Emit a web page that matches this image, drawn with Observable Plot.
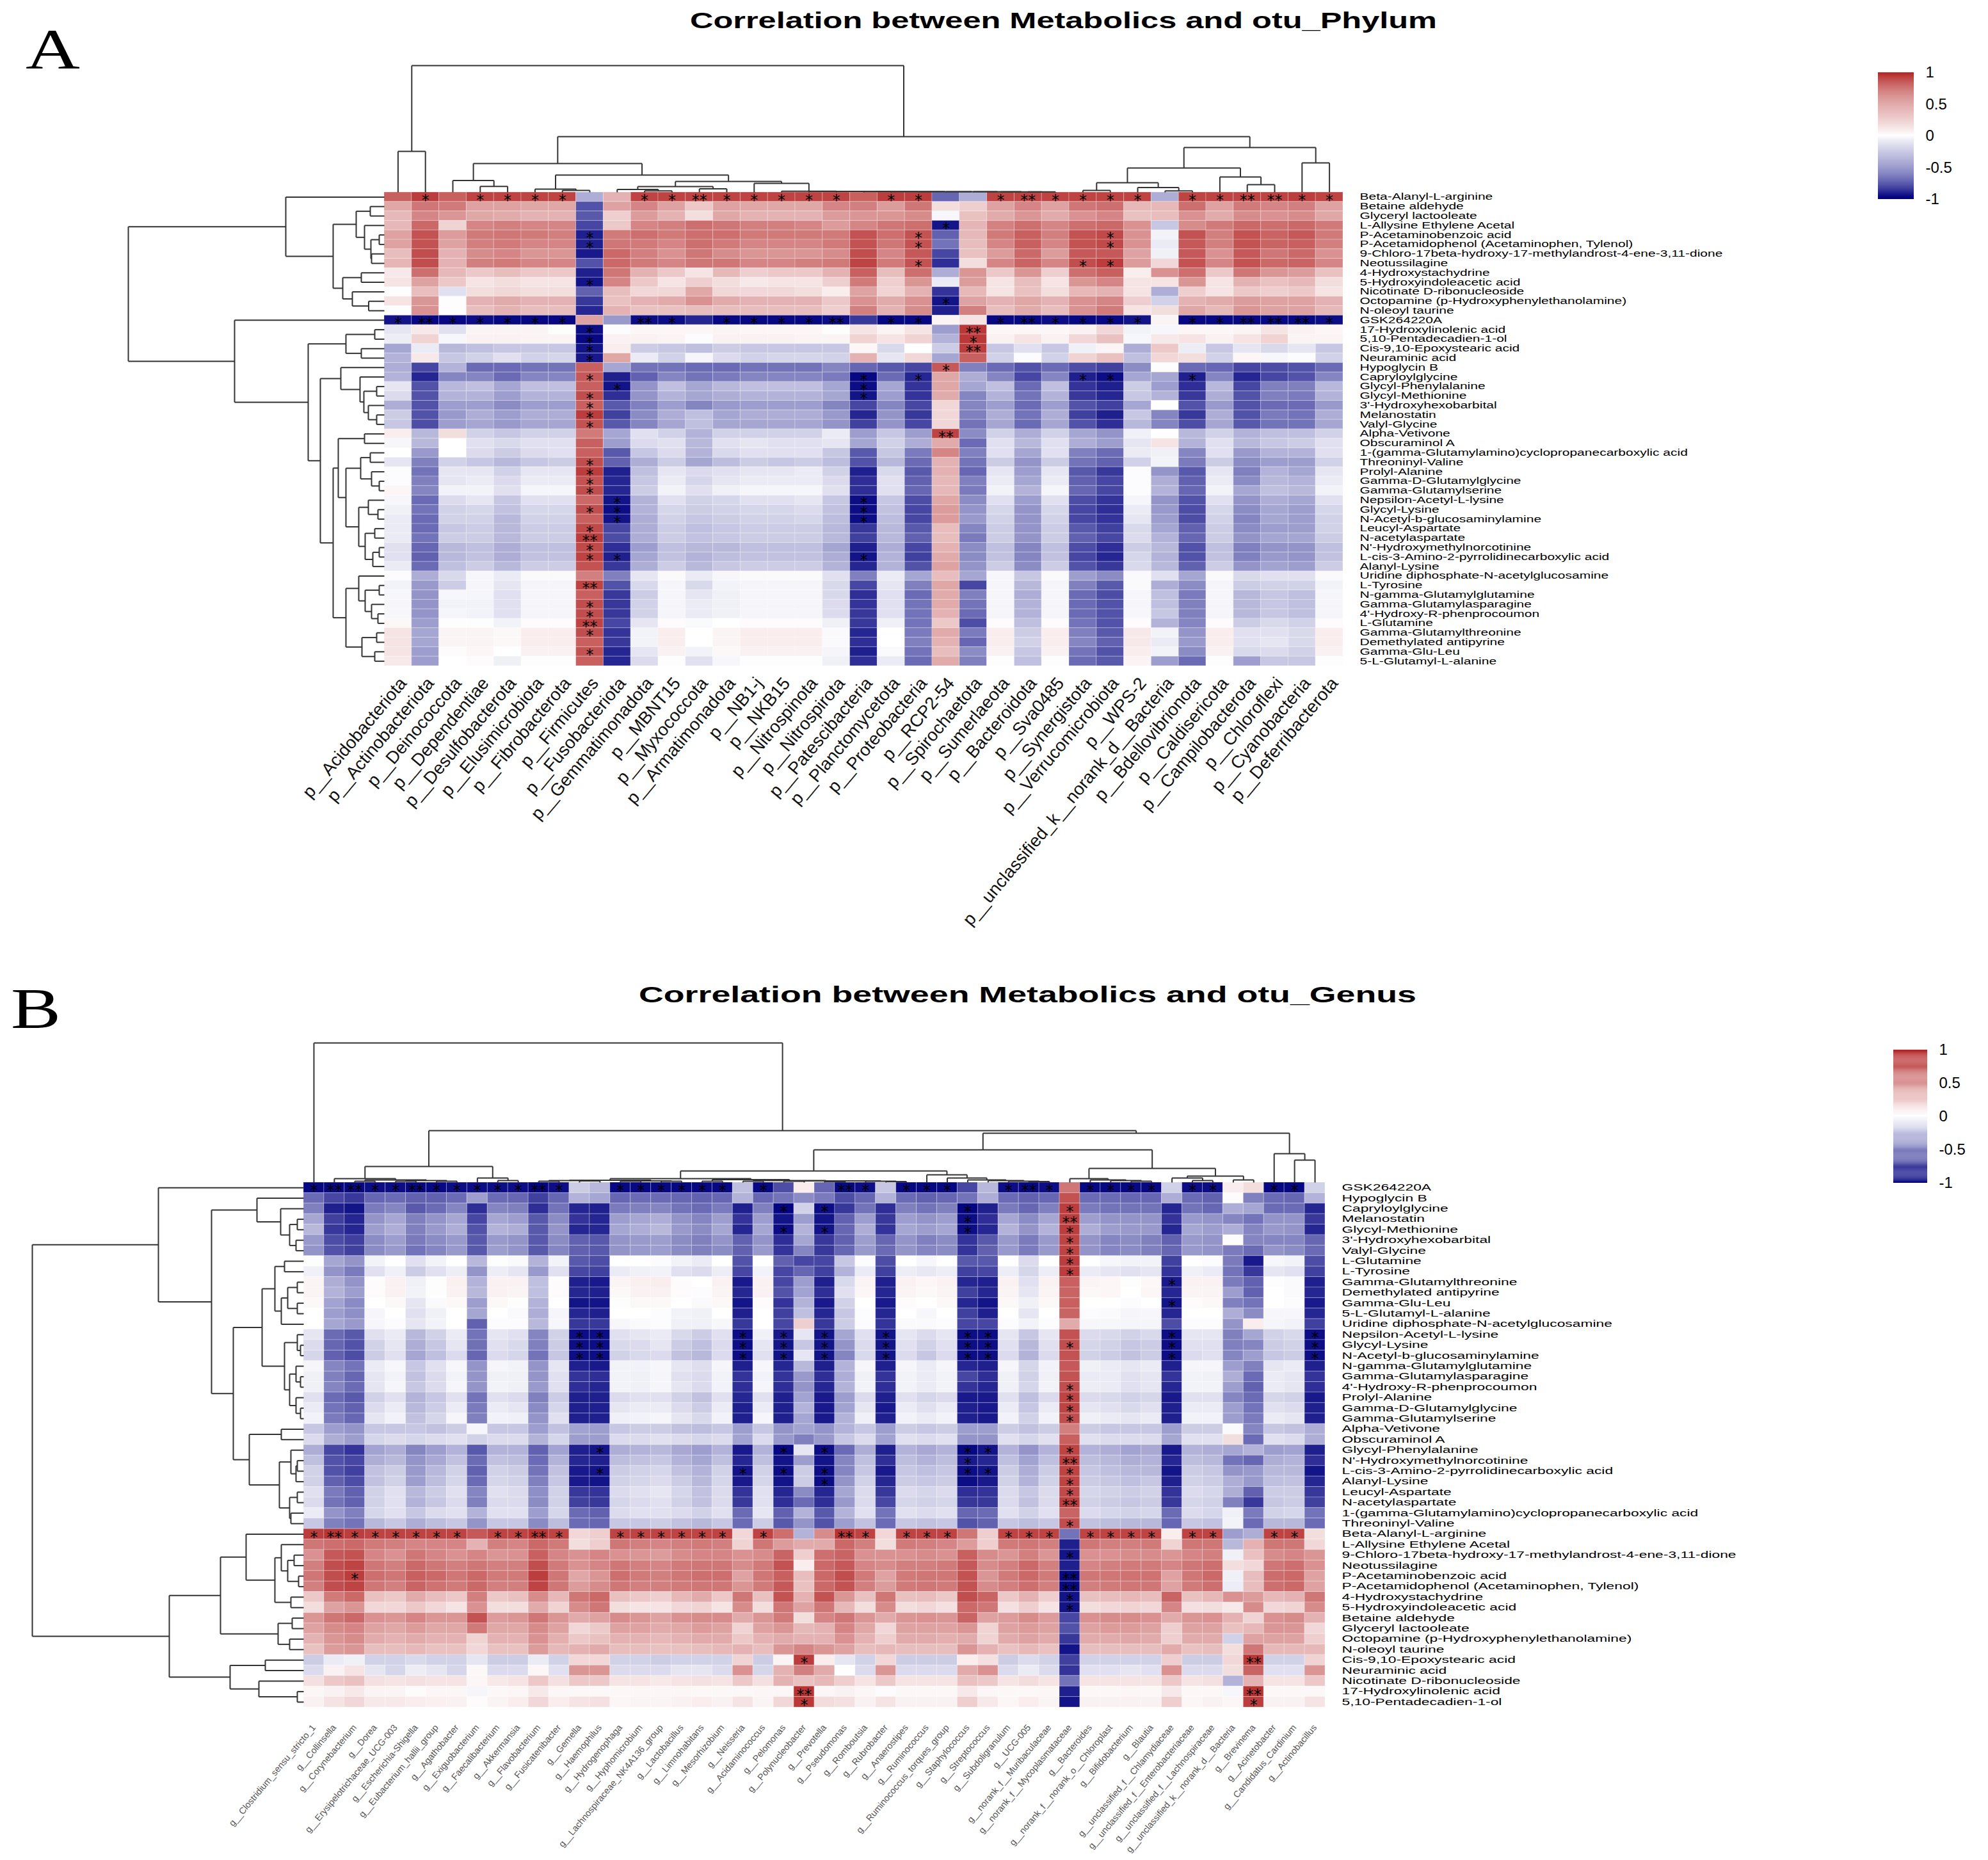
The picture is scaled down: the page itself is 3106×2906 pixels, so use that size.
<!DOCTYPE html>
<html><head><meta charset="utf-8">
<script src="https://cdn.jsdelivr.net/npm/d3@7"></script>
<script src="https://cdn.jsdelivr.net/npm/@observablehq/plot@0.6"></script>
<style>
html,body{margin:0;padding:0;background:#fff}
#page{position:relative;width:3106px;height:2906px;overflow:hidden;background:#fff}
#page>svg,#page>figure{position:absolute;margin:0}
.lab{position:absolute;white-space:nowrap;transform-origin:0 0;color:#000;line-height:1}
</style></head><body><div id="page"></div>
<script>
const phylumColumns=["p__Acidobacteriota","p__Actinobacteriota","p__Deinococcota","p__Dependentiae","p__Desulfobacterota","p__Elusimicrobiota","p__Fibrobacterota","p__Firmicutes","p__Fusobacteriota","p__Gemmatimonadota","p__MBNT15","p__Myxococcota","p__Armatimonadota","p__NB1-j","p__NKB15","p__Nitrospinota","p__Nitrospirota","p__Patescibacteria","p__Planctomycetota","p__Proteobacteria","p__RCP2-54","p__Spirochaetota","p__Sumerlaeota","p__Bacteroidota","p__Sva0485","p__Synergistota","p__Verrucomicrobiota","p__WPS-2","p__unclassified_k__norank_d__Bacteria","p__Bdellovibrionota","p__Caldisericota","p__Campilobacterota","p__Chloroflexi","p__Cyanobacteria","p__Deferribacterota"];
const phylumRows=["Beta-Alanyl-L-arginine","Betaine aldehyde","Glyceryl lactooleate","L-Allysine Ethylene Acetal","P-Acetaminobenzoic acid","P-Acetamidophenol (Acetaminophen, Tylenol)","9-Chloro-17beta-hydroxy-17-methylandrost-4-ene-3,11-dione","Neotussilagine","4-Hydroxystachydrine","5-Hydroxyindoleacetic acid","Nicotinate D-ribonucleoside","Octopamine (p-Hydroxyphenylethanolamine)","N-oleoyl taurine","GSK264220A","17-Hydroxylinolenic acid","5,10-Pentadecadien-1-ol","Cis-9,10-Epoxystearic acid","Neuraminic acid","Hypoglycin B","Capryloylglycine","Glycyl-Phenylalanine","Glycyl-Methionine","3'-Hydroxyhexobarbital","Melanostatin","Valyl-Glycine","Alpha-Vetivone","Obscuraminol A","1-(gamma-Glutamylamino)cyclopropanecarboxylic acid","Threoninyl-Valine","Prolyl-Alanine","Gamma-D-Glutamylglycine","Gamma-Glutamylserine","Nepsilon-Acetyl-L-lysine","Glycyl-Lysine","N-Acetyl-b-glucosaminylamine","Leucyl-Aspartate","N-acetylaspartate","N'-Hydroxymethylnorcotinine","L-cis-3-Amino-2-pyrrolidinecarboxylic acid","Alanyl-Lysine","Uridine diphosphate-N-acetylglucosamine","L-Tyrosine","N-gamma-Glutamylglutamine","Gamma-Glutamylasparagine","4'-Hydroxy-R-phenprocoumon","L-Glutamine","Gamma-Glutamylthreonine","Demethylated antipyrine","Gamma-Glu-Leu","5-L-Glutamyl-L-alanine"];
// correlation x 100, one list per metabolite
const phylumValues=[
[72,88,72,85,85,85,85,-32,35,85,85,85,85,85,85,85,85,72,88,88,-60,-32,85,85,85,85,85,85,-32,85,85,85,85,88,85],
[40,62,60,42,42,40,40,-68,42,55,42,25,42,40,40,40,55,58,45,62,15,22,42,55,42,62,65,32,32,65,42,60,55,58,42],
[32,55,48,40,38,35,35,-65,22,45,35,15,40,35,35,35,45,48,48,52,-3,28,38,48,38,50,55,28,30,50,38,52,50,52,40],
[32,68,20,55,58,55,55,-72,25,55,58,65,62,58,58,55,45,55,62,65,-92,33,57,65,55,65,68,50,-22,52,60,68,65,68,60],
[42,78,45,60,62,60,58,-88,60,65,60,65,65,60,60,60,60,78,65,78,-62,32,60,72,58,78,82,50,-5,78,58,78,70,75,60],
[42,78,42,58,60,55,55,-88,62,60,55,65,60,55,55,55,60,78,62,78,-55,30,55,72,55,78,82,50,-8,75,58,78,70,72,58],
[30,80,35,52,55,48,48,-90,68,58,50,62,52,48,48,48,52,80,55,75,-72,28,45,68,45,75,75,42,-6,75,50,75,62,68,50],
[33,80,35,58,60,55,55,-68,68,60,55,62,62,55,55,58,60,85,60,78,-82,15,55,70,55,80,88,45,18,78,55,78,68,70,55],
[10,65,32,25,30,25,25,-88,62,35,25,12,32,22,25,25,35,72,30,65,-32,48,25,48,22,65,72,8,50,65,25,62,48,45,28],
[12,42,25,12,15,12,12,-92,55,25,12,22,15,10,12,12,22,60,22,48,-8,45,12,30,12,48,55,12,12,48,12,35,28,32,15],
[1,30,-12,15,18,15,15,-62,30,18,18,40,18,18,18,15,8,42,20,35,-80,32,12,28,15,32,35,12,-32,22,12,25,22,25,12],
[12,48,1,35,38,35,35,-78,28,35,38,50,38,35,35,35,25,50,38,50,-92,42,35,40,35,50,55,22,-18,35,38,45,42,42,35],
[1,50,1,30,35,30,30,-85,35,28,28,30,30,30,30,30,22,58,35,52,-88,58,30,38,30,50,60,12,15,40,32,48,42,42,32],
[-92,-97,-97,-95,-97,-97,-97,42,-40,-95,-95,-85,-97,-97,-97,-97,-95,-78,-97,-97,5,12,-97,-97,-95,-97,-97,-92,5,-97,-97,-97,-97,-97,-95],
[-10,10,-12,5,5,5,1,-95,-1,4,4,4,5,4,4,4,1,12,5,12,-38,90,4,4,4,6,18,-5,-3,4,4,5,12,6,4],
[-7,20,-3,6,6,5,5,-97,6,6,5,-1,6,6,6,5,5,20,12,20,-30,90,6,12,6,18,28,-3,10,12,6,12,20,5,5],
[-35,-8,-28,-25,-22,-22,-22,-92,8,-20,-22,-25,-20,-22,-22,-22,-22,4,-15,0,-20,88,-22,-12,-22,-6,5,-32,25,-7,-22,-10,-15,-10,-22],
[-30,10,-22,-18,-12,-18,-16,-90,40,-8,-18,-4,-14,-18,-16,-16,-18,35,-10,18,-35,72,-18,-1,-18,20,28,-25,18,15,-18,4,-3,-1,-18],
[-32,-72,-30,-58,-58,-55,-55,72,-35,-55,-55,-58,-58,-55,-55,-55,-48,-60,-65,-72,75,-50,-58,-68,-58,-70,-75,-45,1,-58,-60,-72,-70,-68,-58],
[-30,-85,-48,-48,-58,-48,-48,75,-88,-62,-48,-55,-52,-48,-48,-48,-52,-97,-58,-85,40,-32,-48,-72,-48,-88,-95,-35,-35,-88,-48,-85,-72,-68,-48],
[-10,-68,-28,-25,-35,-25,-25,72,-92,-42,-25,-35,-28,-25,-25,-25,-35,-95,-35,-80,40,-35,-25,-58,-25,-80,-88,-20,-38,-82,-28,-72,-50,-50,-28],
[-14,-68,-30,-30,-38,-30,-30,80,-82,-42,-30,-35,-32,-30,-30,-30,-35,-92,-38,-80,38,-48,-30,-55,-30,-78,-85,-22,-30,-78,-32,-68,-50,-52,-30],
[-32,-68,-38,-38,-45,-38,-38,72,-65,-50,-38,-48,-40,-38,-38,-38,-48,-72,-48,-72,18,-48,-38,-58,-38,-68,-75,-35,0,-68,-40,-68,-58,-58,-40],
[-20,-68,-40,-32,-38,-32,-32,88,-75,-45,-32,-25,-35,-32,-32,-32,-40,-85,-42,-78,18,-50,-32,-55,-32,-75,-88,-22,-48,-78,-32,-68,-52,-55,-32],
[-22,-70,-38,-35,-40,-35,-35,78,-65,-48,-35,-25,-35,-35,-35,-35,-42,-75,-42,-72,18,-55,-35,-58,-35,-68,-82,-28,-48,-70,-35,-65,-55,-55,-35],
[8,-28,15,-18,-22,-18,-18,60,-35,-12,-18,-30,-18,-18,-18,-18,-8,-38,-22,-38,85,-45,-18,-32,-18,-35,-42,-6,0,-28,-18,-30,-25,-25,-18],
[-3,-28,0,-12,-15,-12,-12,72,-38,-14,-12,-28,-12,-10,-12,-12,-10,-35,-18,-32,38,-58,-12,-28,-12,-32,-38,-10,12,-30,-12,-28,-22,-20,-12],
[0,-40,0,-14,-20,-14,-12,72,-65,-22,-14,-30,-15,-12,-12,-12,-22,-65,-22,-52,55,-50,-12,-35,-12,-50,-58,-8,-6,-48,-12,-40,-30,-30,-12],
[-10,-50,-18,-22,-28,-22,-20,80,-62,-32,-20,-35,-26,-20,-22,-20,-26,-68,-28,-58,35,-55,-20,-42,-20,-55,-62,-18,-5,-52,-20,-45,-38,-38,-18],
[-1,-55,-10,-10,-18,-10,-10,88,-88,-25,-10,-14,-12,-10,-10,-8,-18,-88,-15,-65,35,-60,-10,-38,-10,-65,-78,-1,-42,-65,-10,-50,-30,-35,-10],
[-1,-50,-10,-8,-14,-8,-8,78,-85,-22,-8,-16,-10,-8,-8,-8,-14,-82,-12,-62,32,-50,-8,-35,-8,-62,-72,-1,-32,-62,-8,-45,-28,-30,-8],
[4,-48,-5,-5,-12,-4,-4,80,-85,-20,-5,-12,-6,-4,-4,-4,-12,-82,-12,-60,32,-52,-5,-30,-4,-60,-72,-1,-30,-60,-5,-35,-25,-28,-5],
[-3,-58,-14,-10,-22,-12,-12,68,-92,-30,-12,-18,-16,-12,-12,-10,-22,-95,-22,-70,40,-45,-12,-38,-12,-70,-80,-4,-42,-68,-12,-42,-32,-35,-12],
[-6,-55,-18,-16,-24,-16,-16,80,-95,-30,-16,-20,-18,-16,-16,-14,-24,-95,-24,-72,45,-42,-16,-42,-16,-72,-82,-8,-40,-70,-16,-45,-35,-38,-16],
[-8,-58,-18,-18,-28,-18,-18,72,-92,-32,-18,-22,-20,-18,-18,-16,-26,-95,-26,-72,45,-40,-18,-42,-18,-72,-80,-10,-38,-70,-18,-48,-35,-38,-18],
[-8,-58,-22,-20,-28,-20,-20,82,-72,-32,-20,-25,-22,-20,-20,-20,-28,-78,-28,-65,30,-48,-20,-42,-20,-65,-75,-15,-35,-62,-20,-45,-38,-38,-18],
[-8,-55,-20,-20,-28,-20,-20,88,-70,-32,-20,-24,-22,-20,-20,-20,-28,-75,-28,-62,30,-52,-20,-42,-20,-62,-72,-14,-30,-60,-20,-42,-35,-35,-20],
[-12,-60,-28,-25,-32,-25,-25,82,-82,-38,-25,-28,-28,-25,-25,-25,-35,-88,-32,-72,35,-45,-25,-48,-25,-70,-82,-20,-28,-68,-25,-50,-42,-42,-25],
[-12,-62,-28,-24,-32,-24,-24,85,-88,-35,-24,-30,-26,-24,-24,-24,-32,-92,-30,-75,38,-45,-24,-48,-24,-72,-85,-16,-30,-68,-24,-50,-40,-42,-24],
[-8,-58,-25,-20,-28,-20,-20,78,-78,-32,-20,-28,-22,-20,-20,-20,-30,-85,-30,-68,42,-42,-20,-45,-20,-68,-78,-15,-28,-62,-20,-42,-36,-38,-20],
[-1,-32,-15,-3,-8,-2,-2,58,-50,-10,-2,-8,-3,-2,-2,-2,-12,-50,-8,-35,30,-35,-3,-22,-2,-38,-45,-2,-12,-35,-2,-15,-12,-12,-2],
[-5,-40,-20,-4,-10,-4,-4,85,-68,-15,-4,-15,-5,-4,-4,-4,-15,-72,-10,-50,40,-72,-4,-28,-4,-50,-65,-2,-32,-45,-4,-20,-18,-18,-5],
[-3,-42,-3,-4,-12,-4,-4,72,-78,-20,-4,-10,-6,-4,-4,-4,-15,-82,-12,-58,38,-50,-4,-32,-4,-58,-70,-3,-25,-52,-4,-28,-22,-25,-4],
[-3,-42,-5,-5,-12,-4,-4,80,-78,-18,-4,-8,-6,-4,-4,-4,-14,-80,-12,-55,38,-55,-4,-30,-4,-58,-68,-3,-25,-50,-4,-28,-22,-25,-4],
[-3,-42,-4,-5,-12,-4,-4,80,-78,-18,-4,-8,-6,-4,-4,-4,-14,-78,-12,-55,35,-58,-4,-30,-4,-58,-68,-3,-22,-50,-4,-28,-22,-25,-4],
[3,-38,1,1,-5,2,2,85,-72,-10,2,-2,0,2,2,2,-6,-78,-6,-55,25,-70,2,-25,2,-55,-68,2,-30,-48,2,-20,-15,-18,2],
[12,-35,5,5,3,8,8,80,-80,-5,8,0,5,8,8,8,-2,-85,0,-52,38,-52,8,-20,8,-50,-65,10,-5,-42,8,-12,-12,-15,8],
[12,-35,5,5,3,8,8,72,-78,-5,8,0,5,8,8,8,-2,-82,0,-50,35,-60,8,-18,8,-48,-62,10,-8,-40,8,-12,-10,-15,8],
[12,-38,2,4,0,6,6,78,-85,-10,6,-5,3,6,6,6,-4,-88,-2,-55,30,-45,6,-22,6,-55,-68,8,-5,-45,6,-15,-14,-18,6],
[10,-38,0,2,-6,1,1,72,-85,-14,1,-12,-3,1,1,1,-6,-82,-8,-58,38,-50,1,-25,1,-58,-65,5,-38,-58,1,-38,-22,-22,1]
];
// [row, columns with *, columns with **]
const phylumStars=[
[0,[1,3,4,5,6,9,10,12,13,14,15,16,18,19,22,24,25,26,27,29,30,33,34],[11,23,31,32]],
[3,[20],[]],[4,[7,19,26],[]],[5,[7,19,26],[]],[7,[19,25,26],[]],[9,[7],[]],[11,[20],[]],
[13,[0,2,3,4,5,6,10,12,13,14,15,18,19,22,24,25,26,27,29,30,34],[1,9,16,23,31,32,33]],
[14,[7],[21]],[15,[7,21],[]],[16,[7],[21]],[17,[7],[]],[18,[20],[]],[19,[7,17,19,25,26,29],[]],
[20,[8,17],[]],[21,[7,17],[]],[22,[7],[]],[23,[7],[]],[24,[7],[]],[25,[],[20]],
[28,[7],[]],[29,[7],[]],[30,[7],[]],[31,[7],[]],[32,[8,17],[]],[33,[7,8,17],[]],[34,[8,17],[]],
[35,[7],[]],[36,[],[7]],[37,[7],[]],[38,[7,8,17],[]],[41,[],[7]],[43,[7],[]],[44,[7],[]],[45,[],[7]],[46,[7],[]],[48,[7],[]]
];
// dendrograms: [distance, left, right]; a number is a leaf index
const phylumColumnTree=[198,[64,0,1],[87,[45,[18.4,2,[9.3,3,4]],[27,[5,5,[3,6,7]],[17,[9,[4.5,8,[2.2,9,10]],[5.5,11,12]],[14,13,[1.8,14,[1.6,15,[1.4,16,[1.3,17,[1.2,18,[1.1,19,[1,20,[0.9,21,[0.8,22,[0.7,23,24]]]]]]]]]]]]]],[70,[38,[15,[3,25,26],[7.4,27,[2.2,28,29]]],[24,30,[12,31,32]]],[46,33,34]]]];
const phylumRowTree=[400,[154,0,[80,[44,[22,1,2],[31,3,[21,[8,4,5],[20,6,7]]]],[65,[36,8,9],[50,10,[24.5,11,12]]]]],[234,13,[119,[60,[15,14,15],[36,16,17]],[100,[68,18,[38,19,[32,[12,20,21],[25,22,[12,23,24]]]]],[80,[72,[31,25,26],[60,[37,[22,27,28],[20,29,[8,30,31]]],[40,[25,32,[10,33,34]],[30,[15,35,36],[18,[8,37,38],39]]]]],[60,[40,40,[30,[8,41,42],[20,43,[10,44,45]]]],[35,[12,46,47],[15,48,49]]]]]]]];

const genusColumns=["g__Clostridium_sensu_stricto_1","g__Collinsella","g__Corynebacterium","g__Dorea","g__Erysipelotrichaceae_UCG-003","g__Escherichia-Shigella","g__Eubacterium_hallii_group","g__Agathobacter","g__Exiguobacterium","g__Faecalibacterium","g__Akkermansia","g__Flavobacterium","g__Fusicatenibacter","g__Gemella","g__Haemophilus","g__Hydrogenophaga","g__Hyphomicrobium","g__Lachnospiraceae_NK4A136_group","g__Lactobacillus","g__Limnohabitans","g__Mesorhizobium","g__Neisseria","g__Acidaminococcus","g__Pelomonas","g__Polynucleobacter","g__Prevotella","g__Pseudomonas","g__Romboutsia","g__Rubrobacter","g__Anaerostipes","g__Ruminococcus","g__Ruminococcus_torques_group","g__Staphylococcus","g__Streptococcus","g__Subdoligranulum","g__UCG-005","g__norank_f__Muribaculaceae","g__norank_f__Mycoplasmataceae","g__Bacteroides","g__norank_f__norank_o__Chloroplast","g__Bifidobacterium","g__Blautia","g__unclassified_f__Chlamydiaceae","g__unclassified_f__Enterobacteriaceae","g__unclassified_f__Lachnospiraceae","g__unclassified_k__norank_d__Bacteria","g__Brevinema","g__Acinetobacter","g__Candidatus_Cardinium","g__Actinobacillus"];
const genusRows=["GSK264220A","Hypoglycin B","Capryloylglycine","Melanostatin","Glycyl-Methionine","3'-Hydroxyhexobarbital","Valyl-Glycine","L-Glutamine","L-Tyrosine","Gamma-Glutamylthreonine","Demethylated antipyrine","Gamma-Glu-Leu","5-L-Glutamyl-L-alanine","Uridine diphosphate-N-acetylglucosamine","Nepsilon-Acetyl-L-lysine","Glycyl-Lysine","N-Acetyl-b-glucosaminylamine","N-gamma-Glutamylglutamine","Gamma-Glutamylasparagine","4'-Hydroxy-R-phenprocoumon","Prolyl-Alanine","Gamma-D-Glutamylglycine","Gamma-Glutamylserine","Alpha-Vetivone","Obscuraminol A","Glycyl-Phenylalanine","N'-Hydroxymethylnorcotinine","L-cis-3-Amino-2-pyrrolidinecarboxylic acid","Alanyl-Lysine","Leucyl-Aspartate","N-acetylaspartate","1-(gamma-Glutamylamino)cyclopropanecarboxylic acid","Threoninyl-Valine","Beta-Alanyl-L-arginine","L-Allysine Ethylene Acetal","9-Chloro-17beta-hydroxy-17-methylandrost-4-ene-3,11-dione","Neotussilagine","P-Acetaminobenzoic acid","P-Acetamidophenol (Acetaminophen, Tylenol)","4-Hydroxystachydrine","5-Hydroxyindoleacetic acid","Betaine aldehyde","Glyceryl lactooleate","Octopamine (p-Hydroxyphenylethanolamine)","N-oleoyl taurine","Cis-9,10-Epoxystearic acid","Neuraminic acid","Nicotinate D-ribonucleoside","17-Hydroxylinolenic acid","5,10-Pentadecadien-1-ol"];
const genusValues=[
[-97,-97,-97,-95,-95,-97,-97,-95,-95,-95,-95,-98,-95,-20,-28,-97,-97,-97,-97,-97,-97,-25,-97,-70,8,-60,-97,-95,-22,-97,-97,-97,-72,-28,-95,-97,-95,62,-97,-97,-97,-97,-18,-95,-95,8,15,-97,-97,-18],
[-58,-72,-78,-60,-58,-62,-62,-58,-38,-58,-60,-75,-60,-30,-35,-60,-58,-58,-60,-62,-60,-30,-60,-55,-45,-52,-70,-60,-30,-58,-62,-60,-55,-32,-58,-62,-60,78,-58,-58,-60,-60,-32,-58,-62,2,-50,-58,-60,-30],
[-50,-88,-92,-52,-48,-65,-58,-48,-82,-48,-50,-82,-55,-85,-88,-52,-50,-48,-55,-58,-52,-88,-50,-98,-18,-95,-78,-55,-82,-50,-55,-50,-98,-88,-52,-60,-50,88,-52,-55,-55,-55,-85,-55,-60,-32,-35,-58,-58,-85],
[-35,-75,-85,-42,-35,-50,-42,-35,-72,-35,-38,-65,-45,-80,-85,-38,-35,-32,-42,-48,-38,-80,-38,-92,-38,-92,-62,-38,-78,-38,-42,-38,-95,-82,-35,-45,-35,88,-38,-42,-42,-42,-80,-40,-42,-48,-55,-42,-42,-78],
[-28,-78,-85,-38,-32,-50,-40,-32,-68,-30,-32,-65,-42,-85,-85,-35,-32,-28,-40,-45,-35,-85,-35,-95,-30,-92,-60,-32,-80,-35,-38,-35,-95,-85,-30,-42,-30,88,-32,-38,-40,-40,-85,-35,-38,-32,-48,-40,-42,-85],
[-40,-70,-75,-45,-38,-52,-45,-40,-65,-40,-42,-65,-45,-62,-65,-42,-40,-38,-45,-50,-42,-62,-42,-82,-35,-78,-62,-38,-60,-42,-50,-45,-80,-65,-40,-52,-40,85,-42,-48,-45,-50,-62,-40,-42,2,-48,-48,-48,-60],
[-42,-68,-75,-45,-40,-55,-48,-40,-65,-38,-42,-65,-48,-62,-65,-42,-40,-38,-45,-50,-45,-62,-40,-80,-48,-78,-60,-40,-58,-42,-48,-45,-80,-62,-40,-52,-40,85,-42,-48,-45,-50,-60,-40,-42,-52,-58,-42,-45,-58],
[1,-35,-42,-5,0,-12,-5,0,-28,1,-2,-30,-5,-65,-70,0,0,-1,-5,-8,0,-68,0,-62,-72,-72,-22,-1,-70,0,-3,0,-65,-65,0,-14,0,88,0,-3,-5,-5,-75,0,-1,-52,-90,-3,-5,-70],
[-6,-42,-52,-12,-6,-20,-12,-7,-42,-7,-10,-40,-12,-72,-75,-8,-6,-5,-12,-14,-7,-72,-5,-72,-60,-75,-30,-8,-75,-7,-9,-7,-75,-72,-7,-16,-7,88,-8,-10,-12,-10,-80,-6,-8,-55,-78,-10,-12,-75],
[5,-32,-42,2,6,-6,1,7,-30,6,6,-25,2,-88,-90,5,7,8,2,0,6,-90,6,-72,-38,-88,-15,5,-88,6,4,6,-85,-88,6,-12,6,72,5,4,1,3,-90,6,6,-52,-62,1,-2,-88],
[5,-30,-38,2,6,-5,1,6,-28,6,5,-25,2,-85,-88,3,6,6,2,-1,5,-85,6,-68,-36,-82,-12,4,-85,5,3,5,-75,-85,5,-10,5,70,3,4,0,4,-85,5,5,-38,-62,0,-2,-85],
[3,-36,-46,0,3,-10,-2,3,-38,3,1,-30,0,-92,-92,1,3,3,0,-2,3,-92,2,-80,-30,-90,-18,0,-90,2,0,3,-85,-92,3,-6,3,72,0,0,-1,0,-92,2,3,-50,-55,0,-1,-90],
[0,-38,-44,-4,0,-12,-6,0,-35,0,-2,-32,-4,-85,-88,0,0,-1,-5,-6,0,-88,0,-75,-25,-85,-22,-1,-85,0,-3,0,-75,-88,0,-10,0,70,-1,-2,-4,-3,-85,0,0,-32,-45,-3,-3,-85],
[0,-35,-40,-3,-1,-10,-5,0,-62,-1,-1,-28,-3,-78,-78,-3,-2,-1,-6,-6,-3,-78,0,-72,22,-78,-20,-1,-80,-2,-2,-1,-72,-72,-1,-5,-1,38,-3,-3,-4,-4,-70,-1,-1,-42,8,-4,-5,-75],
[-10,-58,-65,-12,-8,-28,-18,-8,-55,-10,-12,-48,-18,-95,-95,-12,-10,-8,-15,-20,-12,-95,-6,-90,-10,-92,-35,-12,-92,-10,-14,-10,-95,-95,-10,-22,-10,78,-14,-15,-18,-15,-95,-10,-10,-50,-35,-18,-15,-95],
[-14,-60,-68,-18,-10,-32,-22,-10,-56,-12,-15,-50,-20,-95,-95,-15,-14,-10,-20,-25,-14,-95,-10,-92,-22,-92,-42,-14,-92,-12,-18,-12,-95,-95,-12,-28,-12,80,-16,-18,-22,-20,-95,-12,-12,-50,-48,-20,-18,-95],
[-16,-62,-70,-20,-12,-35,-25,-14,-60,-14,-16,-55,-22,-95,-95,-18,-15,-14,-24,-28,-14,-95,-12,-92,-10,-92,-48,-15,-92,-14,-22,-14,-95,-95,-14,-30,-14,78,-18,-20,-24,-20,-95,-14,-12,-48,-38,-22,-20,-95],
[-4,-48,-55,-8,-3,-22,-12,-3,-42,-4,-5,-42,-10,-88,-90,-5,-5,-3,-10,-13,-4,-88,-3,-85,-28,-88,-30,-4,-88,-4,-8,-4,-85,-88,-4,-16,-5,75,-6,-8,-10,-8,-88,-4,-4,-38,-50,-10,-8,-88],
[-6,-50,-60,-10,-5,-24,-14,-5,-42,-6,-6,-42,-12,-80,-82,-5,-6,-4,-12,-14,-5,-80,-5,-80,-40,-82,-32,-6,-80,-5,-8,-5,-72,-82,-6,-18,-6,78,-8,-8,-12,-10,-80,-5,-6,-32,-58,-8,-10,-80],
[-6,-48,-58,-10,-4,-22,-14,-4,-42,-5,-6,-40,-12,-82,-85,-5,-6,-4,-10,-14,-5,-82,-4,-82,-42,-85,-30,-5,-82,-5,-8,-5,-80,-85,-6,-16,-5,80,-7,-8,-12,-10,-85,-5,-5,-38,-62,-8,-10,-82],
[-12,-58,-65,-18,-12,-30,-22,-12,-55,-12,-14,-50,-20,-88,-88,-14,-12,-12,-18,-24,-12,-85,-12,-88,-36,-90,-38,-14,-88,-12,-16,-14,-90,-90,-12,-25,-14,85,-14,-15,-18,-16,-90,-12,-12,-48,-58,-16,-18,-90],
[-8,-55,-62,-14,-8,-28,-20,-8,-52,-8,-10,-46,-16,-88,-88,-10,-8,-8,-14,-20,-8,-88,-8,-88,-30,-90,-36,-10,-90,-8,-12,-8,-88,-90,-8,-22,-8,85,-10,-12,-15,-12,-88,-8,-8,-38,-55,-12,-14,-88],
[-5,-52,-60,-10,-5,-24,-16,-4,-50,-5,-6,-42,-12,-88,-88,-6,-5,-4,-10,-15,-5,-88,-4,-88,-35,-90,-30,-6,-88,-5,-8,-5,-88,-90,-5,-18,-5,80,-6,-8,-10,-8,-88,-5,-5,-38,-52,-8,-10,-88],
[-22,-38,-42,-22,-22,-22,-24,-20,-4,-22,-22,-38,-24,-36,-38,-22,-20,-20,-24,-26,-22,-38,-22,-42,-36,-42,-30,-22,-38,-20,-22,-20,-38,-38,-20,-24,-20,58,-20,-22,-22,-22,-38,-20,-20,-2,-48,-22,-24,-32],
[-14,-32,-38,-16,-14,-16,-14,-12,-18,-14,-14,-30,-16,-38,-38,-14,-14,-12,-14,-16,-14,-36,-14,-40,-50,-40,-22,-14,-36,-12,-14,-12,-42,-42,-12,-16,-12,72,-12,-14,-14,-14,-35,-12,-12,15,-58,-12,-14,-32],
[-32,-72,-80,-36,-32,-48,-38,-30,-65,-30,-30,-62,-36,-88,-92,-32,-30,-28,-34,-38,-30,-90,-30,-97,-10,-95,-58,-32,-88,-30,-34,-30,-97,-92,-30,-42,-30,85,-30,-32,-36,-34,-90,-30,-32,-35,-30,-38,-36,-88],
[-25,-68,-72,-32,-28,-42,-34,-24,-58,-24,-26,-58,-30,-85,-88,-26,-24,-22,-30,-35,-25,-85,-25,-92,-38,-92,-48,-25,-82,-26,-30,-26,-90,-85,-25,-36,-25,88,-26,-28,-32,-30,-85,-26,-28,-55,-60,-32,-30,-82],
[-18,-68,-75,-24,-20,-40,-28,-18,-62,-18,-20,-55,-24,-90,-92,-20,-18,-16,-24,-30,-18,-92,-18,-95,-20,-95,-48,-22,-90,-22,-25,-22,-95,-92,-20,-32,-20,85,-22,-25,-28,-28,-92,-20,-22,-42,-40,-28,-28,-92],
[-18,-62,-70,-24,-18,-38,-26,-16,-58,-16,-18,-50,-22,-90,-92,-18,-16,-14,-20,-28,-16,-90,-16,-92,-20,-95,-42,-18,-85,-20,-22,-20,-95,-90,-18,-30,-18,85,-20,-22,-25,-22,-88,-18,-20,-32,-40,-25,-24,-85],
[-12,-52,-62,-18,-12,-28,-20,-12,-48,-12,-14,-44,-18,-78,-80,-14,-12,-10,-16,-24,-14,-80,-12,-85,-45,-85,-35,-14,-78,-14,-16,-14,-82,-80,-14,-22,-14,82,-16,-18,-20,-18,-80,-14,-16,-32,-62,-20,-20,-78],
[-14,-55,-62,-18,-12,-30,-22,-14,-50,-14,-14,-45,-18,-75,-78,-16,-14,-12,-18,-24,-14,-78,-12,-82,-58,-82,-40,-14,-72,-16,-18,-16,-78,-78,-14,-24,-14,88,-18,-20,-22,-20,-78,-16,-18,-50,-78,-22,-20,-75],
[-8,-42,-50,-16,-12,-22,-14,-12,-30,-12,-12,-38,-16,-58,-62,-14,-12,-12,-14,-18,-12,-58,-10,-62,-30,-65,-30,-12,-55,-12,-14,-12,-60,-58,-12,-18,-12,70,-14,-16,-18,-16,-58,-14,-16,-6,-52,-18,-16,-55],
[-22,-50,-55,-28,-22,-32,-26,-22,-42,-22,-22,-46,-26,-58,-60,-22,-22,-20,-24,-28,-22,-58,-20,-65,-42,-68,-38,-24,-58,-22,-24,-22,-68,-62,-22,-26,-22,80,-24,-26,-28,-28,-60,-22,-24,-5,-58,-28,-28,-58],
[88,92,88,85,85,85,85,85,75,85,85,92,85,18,22,85,85,85,85,85,85,18,85,65,-30,52,92,85,18,85,85,85,62,22,85,85,85,-55,85,85,85,85,8,85,85,-38,-32,85,85,15],
[62,65,68,60,58,55,55,55,35,58,55,68,60,15,22,62,58,55,58,60,58,20,62,45,38,38,68,58,15,60,58,55,45,22,60,62,58,-88,62,58,58,60,20,62,62,-28,35,62,62,18],
[50,75,78,55,50,62,55,50,55,48,50,72,55,50,55,50,48,45,52,55,55,50,52,70,22,65,70,50,50,50,52,50,72,52,48,58,48,-92,50,50,52,52,48,55,58,-6,28,52,55,48],
[58,80,85,62,58,68,62,58,62,58,58,80,60,50,55,62,58,55,60,62,62,52,60,78,8,68,75,55,52,58,58,60,75,52,58,68,58,-88,55,58,60,60,55,62,65,15,18,62,65,50],
[62,80,88,65,62,72,68,62,68,60,60,88,62,40,48,65,60,58,62,65,65,42,62,72,30,68,80,60,42,60,62,62,78,48,60,68,60,-97,62,62,64,64,42,62,68,-6,30,66,68,42],
[58,80,85,62,58,70,64,60,68,58,58,85,62,45,52,62,58,58,60,62,62,48,60,75,28,68,78,58,45,60,62,60,78,52,58,65,58,-97,58,60,62,62,42,60,65,-7,30,65,68,42],
[25,60,68,28,25,38,30,25,58,25,28,52,32,62,68,28,25,22,32,38,25,62,28,78,35,78,48,28,62,28,30,25,80,70,25,35,22,-92,28,30,32,30,70,28,32,50,45,32,35,62],
[15,42,48,18,18,25,18,12,50,15,15,38,20,52,62,15,12,12,18,20,12,52,15,62,42,62,32,15,52,15,18,14,68,62,14,22,12,-92,15,18,20,18,55,14,15,10,52,18,20,52],
[48,62,68,50,48,55,48,48,78,45,48,62,48,38,42,52,48,42,50,52,52,38,48,60,15,55,62,48,38,48,50,48,70,42,45,52,45,-72,50,52,52,50,38,48,50,35,20,50,52,35],
[42,52,55,42,40,45,40,40,60,40,40,52,42,18,24,42,42,38,40,45,42,20,42,48,32,35,55,40,18,42,42,42,48,20,42,45,42,-68,42,45,45,42,22,42,42,28,32,48,48,18],
[35,48,52,38,35,38,35,35,20,35,35,50,36,25,28,35,35,32,35,38,38,25,35,38,35,35,50,35,22,38,38,36,38,20,38,42,38,-78,38,38,40,38,22,38,38,-18,42,42,42,22],
[28,45,48,30,30,32,28,28,18,28,28,45,32,35,38,30,30,28,28,30,32,35,30,48,55,48,42,30,32,30,30,30,48,35,28,32,28,-92,30,30,30,30,38,28,30,15,62,32,32,32],
[-20,-8,-6,-18,-18,-15,-18,-18,-10,-20,-20,-8,-18,18,18,-18,-18,-20,-18,-18,-18,20,-20,5,88,8,-10,-18,18,-20,-20,-20,8,14,-20,-14,-18,-75,-18,-18,-18,-18,22,-20,-20,18,90,-18,-18,20],
[-14,6,12,-10,-16,-7,-10,-16,3,-14,-14,4,-12,48,48,-14,-14,-14,-10,-10,-14,50,-16,35,58,38,0,-14,48,-14,-14,-14,38,50,-14,-8,-14,-80,-12,-12,-10,-12,50,-14,-14,15,70,-12,-12,48],
[14,25,28,14,12,14,12,12,4,10,12,25,14,25,25,12,12,10,12,14,12,25,14,35,28,32,22,12,25,12,12,12,28,25,12,16,12,-55,12,12,12,12,25,12,14,-30,35,12,12,25],
[4,6,10,5,5,2,4,4,-4,3,4,10,4,3,3,3,4,4,4,3,3,3,4,4,92,4,6,4,2,3,3,3,10,4,3,3,4,-88,3,3,4,3,10,3,3,-3,92,3,3,3],
[6,13,18,10,10,8,7,6,2,5,8,18,8,12,14,4,5,5,6,8,6,12,5,18,90,16,14,6,12,6,6,6,22,10,4,8,5,-92,6,6,6,6,22,4,6,4,88,6,6,12]
];
const genusStars=[
[0,[0,3,4,6,7,8,9,10,12,15,16,17,18,19,20,22,27,29,30,31,34,36,38,39,40,41,43,44,47,48],[1,2,5,11,26,35]],
[2,[23,25,32,37],[]],[3,[32],[37]],[4,[23,25,32,37],[]],[5,[37],[]],[6,[37],[]],[7,[37],[]],[8,[37],[]],[9,[42],[]],[11,[42],[]],
[14,[13,14,21,23,25,28,32,33,42,49],[]],[15,[13,14,21,23,25,28,32,33,37,42,49],[]],[16,[13,14,21,23,25,28,32,33,42,49],[]],
[19,[37],[]],[20,[37],[]],[21,[37],[]],[22,[37],[]],[25,[14,23,25,32,33,37],[]],[26,[32],[37]],[27,[14,21,23,25,32,33,37],[]],[28,[25,37],[]],[29,[37],[]],[30,[],[37]],[32,[37],[]],
[33,[0,2,3,4,5,6,7,9,10,12,15,16,17,18,19,20,22,27,29,30,31,34,35,36,38,39,40,41,43,44,47,48],[1,11,26]],
[35,[37],[]],[37,[2],[37]],[38,[],[37]],[39,[37],[]],[40,[37],[]],[45,[24],[46]],[48,[],[24,46]],[49,[24,46],[]]
];
const genusColumnTree=[218,0,[81,[25,[6,1,[4,[2,2,3],[3,[2,4,5],[2,6,7]]]],[7,8,[3,9,10]]],[77,[51,[18,[6,[3.5,[3,[2,11,12],[2.5,13,14]],[2.5,[2,15,16],[2,17,18]]],[4.5,[2,19,20],[3,[2,21,22],[2.5,[2,23,24],[2.5,[1.5,25,26],[2,27,[1.5,28,29]]]]]]],[12,30,[7,31,[4,32,[3,33,[2,34,[1.5,35,36]]]]]]],[22,[6,37,[4,38,[3,39,[2,40,41]]]],[10,[7,42,[3,43,44]],[4,45,46]]]],[45,47,[35,48,49]]]]];
const genusRowTree=[424,[227,0,[144,[73,1,[36,2,[22,[10,3,4],[12,5,6]]]],[110,[65,[45,[30,7,8],[35,[25,[10,9,10],[10,11,12]],13]],[30,[10,14,[5,15,16]],[22,[12,17,[5,18,19]],[12,20,[5,21,22]]]]],[85,[35,23,24],[38,[20,25,[12,[10,26,27],28]],[22,[10,29,30],[20,31,32]]]]]]],[210,[130,[90,33,[45,[35,34,[25,[15,35,36],[8,37,38]]],[20,39,40]]],[40,[18,41,42],[22,43,44]]],[115,[60,45,46],[70,47,[10,48,49]]]]];
const legendTicks=[-1,-0.5,0,0.5,1];

const heatColor={type:"linear",domain:[-1,0,1],range:["#00007f","#ffffff","#b22222"]};
const font="'Liberation Sans',Arial,sans-serif";
const page=document.getElementById("page");

function treeSegments(tree){
  const segs=[];
  (function walk(n){
    if(typeof n==="number")return{pos:n+0.5,d:0};
    const a=walk(n[1]),b=walk(n[2]),d=n[0];
    segs.push({p1:a.pos,d1:a.d,p2:a.pos,d2:d},{p1:b.pos,d1:b.d,p2:b.pos,d2:d},{p1:a.pos,d1:d,p2:b.pos,d2:d});
    return{pos:(a.pos+b.pos)/2,d};
  })(tree);
  return segs;
}
function panel(o){
  const nc=o.columns.length,nr=o.rows.length;
  const plotW=o.width-o.ml-o.mr,plotH=o.height-o.mt-o.mb;
  const cw=plotW/nc,rh=plotH/nr;
  const cells=o.values.flatMap((r,i)=>r.map((v,j)=>({row:i,col:j,value:v/100})));
  const stars=o.stars.flatMap(([r,one,two])=>[...one.map(c=>({row:r,col:c,t:"*"})),...two.map(c=>({row:r,col:c,t:"**"}))]);
  const top=treeSegments(o.colTree),left=treeSegments(o.rowTree);
  const svg=Plot.plot({
    width:o.width,height:o.height,marginTop:o.mt,marginBottom:o.mb,marginLeft:o.ml,marginRight:o.mr,
    style:{fontFamily:font,background:"#fff",color:"#000"},
    x:{domain:[0,nc]},y:{domain:[nr,0]},color:heatColor,
    marks:[
      Plot.rect(cells,{x1:"col",x2:d=>d.col+1,y1:"row",y2:d=>d.row+1,fill:"value",stroke:"#fff",strokeOpacity:0.28,strokeWidth:1}),
      Plot.link(top,{x1:"p1",x2:"p2",y1:d=>-d.d1/rh,y2:d=>-d.d2/rh,stroke:"#333",strokeWidth:2}),
      Plot.link(left,{y1:"p1",y2:"p2",x1:d=>-d.d1/cw,x2:d=>-d.d2/cw,stroke:"#333",strokeWidth:2}),
      Plot.text(stars,{x:d=>d.col+0.5,y:d=>d.row+0.5,text:"t",fontSize:o.starSize,fill:"#000",dy:o.starDy,fontFamily:"'DejaVu Sans'"}),
      Plot.axisX(d3.range(nc).map(i=>i+0.5),{anchor:"bottom",tickSize:0,tickPadding:o.xPad,tickRotate:-50,tickFormat:d=>o.columns[d-0.5],fontSize:o.xSize,fill:o.xFill,label:null,dx:o.xDx}),
      Plot.axisY(d3.range(nr).map(i=>i+0.5),{anchor:"right",tickSize:0,tickPadding:26,textAnchor:"start",tickFormat:d=>o.rows[d-0.5],fontSize:o.ySize,label:null})
    ]
  });
  svg.style.left="0px";svg.style.top=o.top+"px";
  page.appendChild(svg);
  svg.querySelectorAll('g[aria-label="y-axis tick label"] text').forEach(t=>{
    t.setAttribute("lengthAdjust","spacingAndGlyphs");
    t.setAttribute("textLength",t.getComputedTextLength()*o.yStretch);
  });
}
function legend(left,top,h,w){
  const ramp=d3.range(-1,1,0.01);
  const svg=Plot.plot({
    width:w+100,height:h+40,marginTop:20,marginBottom:20,marginLeft:0,marginRight:100,
    style:{fontFamily:font,background:"transparent",color:"#000"},
    y:{domain:[-1,1]},color:heatColor,
    marks:[
      Plot.rect(ramp,{y1:d=>d,y2:d=>d+0.0105,fill:d=>d}),
      Plot.axisY(legendTicks,{anchor:"right",tickSize:0,tickPadding:18,textAnchor:"start",fontSize:24,tickFormat:d=>String(d),label:null})
    ]
  });
  svg.style.left=left+"px";svg.style.top=(top-20)+"px";
  page.appendChild(svg);
}
function label(text,left,top,size,family,weight,targetW){
  const e=document.createElement("div");e.className="lab";e.textContent=text;
  e.style.cssText+=`left:${left}px;top:${top}px;font:${weight} ${size}px ${family}`;
  page.appendChild(e);
  e.style.transform=`scaleX(${targetW/e.getBoundingClientRect().width})`;
}
panel({columns:phylumColumns,rows:phylumRows,values:phylumValues,stars:phylumStars,colTree:phylumColumnTree,rowTree:phylumRowTree,
  top:0,width:3106,height:1500,mt:300,mb:460,ml:600,mr:1008,starSize:24,starDy:5,xPad:22,xSize:27.5,xFill:"#111",xDx:8,ySize:14,yStretch:1.5});
panel({columns:genusColumns,rows:genusRows,values:genusValues,stars:genusStars,colTree:genusColumnTree,rowTree:genusRowTree,
  top:1500,width:3106,height:1406,mt:347,mb:239,ml:474,mr:1036,starSize:24,starDy:5,xPad:29,xSize:14.2,xFill:"#555",xDx:0,ySize:14,yStretch:1.63});
legend(2934,113,198,56);
legend(2958,1640,208,53);
label("Correlation between Metabolics and otu_Phylum",1078,12,35,font,"bold",1167);
label("Correlation between Metabolics and otu_Genus",998,1534,35,font,"bold",1215);
label("A",40,26,88,"'Liberation Serif',serif","normal",85);
label("B",17,1525,88,"'Liberation Serif',serif","normal",78);
</script></body></html>
